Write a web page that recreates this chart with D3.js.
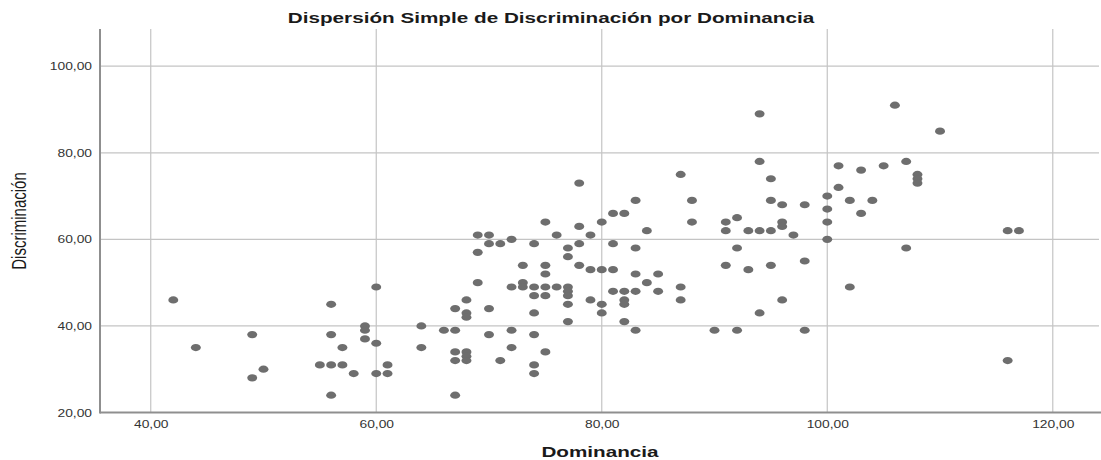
<!DOCTYPE html>
<html>
<head>
<meta charset="utf-8">
<script src="https://cdn.jsdelivr.net/npm/d3@7"></script>
<style>
  html, body { margin: 0; padding: 0; background: #fff; }
  svg { display: block; }
  text { font-family: "Liberation Sans", Arial, sans-serif; }
</style>
</head>
<body>
<svg id="chart" width="1101" height="460"></svg>
<script>
// Dominancia (x) for each case
const dominancia = [
  42, 44, 49, 50, 49, 56, 60, 56, 59, 59, 59, 60, 57, 55, 56, 57, 58, 60, 61, 61, 56,
  75, 78, 80, 69, 70, 76, 79, 70, 71, 72, 74, 77, 78, 81, 69, 77, 73, 75, 75, 78, 79, 80, 81,
  69, 72, 73, 73, 74, 75, 76, 77, 77, 77, 77, 74, 75, 81, 82, 82, 82, 79, 80, 80, 82, 77,
  68, 67, 68, 68, 70, 74, 64, 66, 67, 70, 72, 74, 64, 72, 75, 67, 67, 68, 68, 68, 71, 74, 74, 67,
  78, 81, 82,
  94, 101, 87, 95, 101, 83, 88, 95, 96, 98, 100, 100, 100, 100, 102, 84, 88, 91, 91, 92, 93, 94, 95,
  96, 96, 97, 83, 92, 91, 93, 95, 98, 83, 85, 84, 83, 85, 87, 87, 83, 90, 92, 98, 94, 96, 102,
  106, 110, 103, 105, 107, 108, 108, 108, 104, 103, 116, 117, 107, 116, 94
];
// Discriminación (y) for each case, same order
const discriminacion = [
  46, 35, 38, 30, 28, 45, 49, 38, 40, 39, 37, 36, 35, 31, 31, 31, 29, 29, 31, 29, 24,
  64, 63, 64, 61, 61, 61, 61, 59, 59, 60, 59, 58, 59, 59, 57, 56, 54, 54, 52, 54, 53, 53, 53,
  50, 49, 50, 49, 49, 49, 49, 49, 48, 47, 45, 47, 47, 48, 48, 46, 45, 46, 45, 43, 41, 41,
  46, 44, 43, 42, 44, 43, 40, 39, 39, 38, 39, 38, 35, 35, 34, 34, 32, 34, 33, 32, 32, 31, 29, 24,
  73, 66, 66,
  78, 77, 75, 74, 72, 69, 69, 69, 68, 68, 70, 67, 64, 60, 69, 62, 64, 64, 62, 65, 62, 62, 62,
  64, 63, 61, 58, 58, 54, 53, 54, 55, 52, 52, 50, 48, 48, 49, 46, 39, 39, 39, 39, 43, 46, 49,
  91, 85, 76, 77, 78, 75, 74, 73, 69, 66, 62, 62, 58, 32, 89
];
const xTicks = [40, 60, 80, 100, 120];
const yTicks = [20, 40, 60, 80, 100];
const chartTitle = "Dispersión Simple de Discriminación por Dominancia";
const xTitle = "Dominancia";
const yTitle = "Discriminación";

const points = dominancia.map((d, i) => ({ x: d, y: discriminacion[i] }));

const svg = d3.select("#chart");
const plot = { left: 100, right: 1099, top: 29, bottom: 412.5 };
const stretch = 1.38; // horizontal stretch applied to text and markers

const x = d3.scaleLinear().domain([35.5, 124.1]).range([plot.left, plot.right]);
const y = d3.scaleLinear().domain([20, 108.6]).range([plot.bottom, plot.top]);
const fmt = v => d3.format(".2f")(v).replace(".", ",");

// gridlines
const grid = svg.append("g").attr("stroke", "#c4c4c4").attr("stroke-width", 1.2);
grid.selectAll("line.gx").data(xTicks).join("line")
  .attr("x1", d => x(d)).attr("x2", d => x(d))
  .attr("y1", plot.top).attr("y2", plot.bottom);
grid.selectAll("line.gy").data(yTicks.filter(d => d > 20)).join("line")
  .attr("x1", plot.left).attr("x2", plot.right)
  .attr("y1", d => y(d)).attr("y2", d => y(d));

// axes (no tick marks)
const xAxis = d3.axisBottom(x).tickValues(xTicks).tickSize(0).tickPadding(0).tickFormat(fmt);
const yAxis = d3.axisLeft(y).tickValues(yTicks).tickSize(0).tickPadding(0).tickFormat(fmt);

const gx = svg.append("g").attr("transform", `translate(0,${plot.bottom})`).call(xAxis);
gx.select(".domain").remove();
gx.selectAll(".tick text")
  .attr("y", 0).attr("dy", 0)
  .attr("transform", `translate(0,15) scale(${stretch},1)`)
  .attr("font-size", 10).attr("fill", "#333")
  .style("font-family", '"Liberation Sans", Arial, sans-serif');

const gy = svg.append("g").attr("transform", `translate(${plot.left},0)`).call(yAxis);
gy.select(".domain").remove();
gy.selectAll(".tick text")
  .attr("x", 0).attr("dy", "0.35em")
  .attr("transform", `translate(-8,0) scale(${stretch},1)`)
  .attr("font-size", 10).attr("fill", "#333")
  .style("font-family", '"Liberation Sans", Arial, sans-serif');

// axis lines
svg.append("line")
  .attr("x1", plot.left).attr("x2", plot.left)
  .attr("y1", plot.top).attr("y2", plot.bottom + 1)
  .attr("stroke", "#8f8f8f").attr("stroke-width", 2);
svg.append("line")
  .attr("x1", plot.left).attr("x2", plot.right + 2)
  .attr("y1", plot.bottom).attr("y2", plot.bottom)
  .attr("stroke", "#8f8f8f").attr("stroke-width", 2);

// scatter markers
svg.append("g").selectAll("ellipse").data(points).join("ellipse")
  .attr("cx", d => x(d.x)).attr("cy", d => y(d.y))
  .attr("rx", 3.6 * stretch).attr("ry", 3.6)
  .attr("fill", "#6e6e6e");

// titles
svg.append("text")
  .attr("transform", `translate(551,23) scale(${stretch},1)`)
  .attr("text-anchor", "middle")
  .attr("font-size", 15).attr("font-weight", "bold").attr("fill", "#1a1a1a")
  .text(chartTitle);

svg.append("text")
  .attr("transform", `translate(600,457) scale(${stretch},1)`)
  .attr("text-anchor", "middle")
  .attr("font-size", 15).attr("font-weight", "bold").attr("fill", "#1a1a1a")
  .text(xTitle);

svg.append("text")
  .attr("transform", `translate(26,221) scale(${stretch},1) rotate(-90)`)
  .attr("text-anchor", "middle")
  .attr("font-size", 15).attr("fill", "#1a1a1a")
  .text(yTitle);
</script>
</body>
</html>
